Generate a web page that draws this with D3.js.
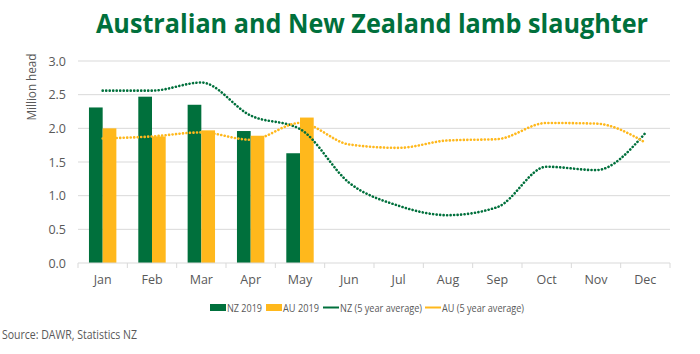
<!DOCTYPE html>
<html>
<head>
<meta charset="utf-8">
<script src="https://cdn.jsdelivr.net/npm/d3@7"></script>
<style>
  body { margin: 0; background: #fff; overflow: hidden; }
  svg { display: block; }
  text { font-family: "Open Sans", "Liberation Sans", sans-serif; }
</style>
</head>
<body>
<div id="chart"></div>
<script>
const months = ["Jan", "Feb", "Mar", "Apr", "May", "Jun", "Jul", "Aug", "Sep", "Oct", "Nov", "Dec"];
const nz2019 = [2.31, 2.47, 2.35, 1.96, 1.63];
const au2019 = [2.00, 1.88, 1.97, 1.89, 2.16];
const nzAvg = [2.56, 2.56, 2.68, 2.19, 1.99, 1.19, 0.85, 0.71, 0.83, 1.43, 1.38, 1.93];
const auAvg = [1.85, 1.88, 1.94, 1.83, 2.08, 1.76, 1.71, 1.82, 1.84, 2.08, 2.07, 1.79];
const yTicks = [0, 0.5, 1, 1.5, 2, 2.5, 3];

const green = "#00703c";
const gold = "#ffb81c";

const width = 700, height = 354;
const margin = { top: 61, right: 30, bottom: 91, left: 78 };
const innerWidth = width - margin.left - margin.right;
const innerHeight = height - margin.top - margin.bottom;

const svg = d3.select("#chart").append("svg")
  .attr("width", width)
  .attr("height", height);

svg.append("text")
  .attr("x", 96)
  .attr("y", 33)
  .attr("textLength", 552)
  .attr("lengthAdjust", "spacingAndGlyphs")
  .style("font-size", "27px")
  .style("font-weight", "bold")
  .style("fill", green)
  .text("Australian and New Zealand lamb slaughter");

const g = svg.append("g")
  .attr("transform", `translate(${margin.left},${margin.top})`);

const x = d3.scaleBand().domain(months).range([0, innerWidth]);
const y = d3.scaleLinear().domain([0, 3]).range([innerHeight, 0]);

// gridlines
g.selectAll("line.grid")
  .data(yTicks.slice(1))
  .enter().append("line")
  .attr("class", "grid")
  .attr("x1", 0).attr("x2", innerWidth)
  .attr("y1", d => y(d)).attr("y2", d => y(d))
  .attr("stroke", "#d9d9d9")
  .attr("stroke-width", 1);

// y axis labels
g.selectAll("text.ytick")
  .data(yTicks)
  .enter().append("text")
  .attr("class", "ytick")
  .attr("x", -12)
  .attr("y", d => y(d) + 4.5)
  .attr("text-anchor", "end")
  .style("font-size", "12.5px")
  .style("fill", "#595959")
  .text(d => d.toFixed(1));

svg.append("text")
  .attr("transform", "translate(36,87) rotate(-90)")
  .attr("text-anchor", "middle")
  .attr("textLength", 67)
  .attr("lengthAdjust", "spacingAndGlyphs")
  .style("font-size", "12.5px")
  .style("fill", "#595959")
  .text("Million head");

// bars
const barW = 13.7;
const monthsWithBars = months.slice(0, nz2019.length);
g.selectAll("rect.nz")
  .data(monthsWithBars)
  .enter().append("rect")
  .attr("class", "nz")
  .attr("x", (d, i) => x(d) + x.bandwidth() / 2 - barW)
  .attr("y", (d, i) => y(nz2019[i]))
  .attr("width", barW)
  .attr("height", (d, i) => innerHeight - y(nz2019[i]))
  .attr("fill", green);

g.selectAll("rect.au")
  .data(monthsWithBars)
  .enter().append("rect")
  .attr("class", "au")
  .attr("x", (d, i) => x(d) + x.bandwidth() / 2)
  .attr("y", (d, i) => y(au2019[i]))
  .attr("width", barW)
  .attr("height", (d, i) => innerHeight - y(au2019[i]))
  .attr("fill", gold);

// x axis
const xAxis = g.append("g")
  .attr("transform", `translate(0,${innerHeight})`);
xAxis.append("line")
  .attr("x1", 0).attr("x2", innerWidth)
  .attr("stroke", "#d9d9d9");
xAxis.selectAll("line.tick")
  .data(d3.range(months.length + 1))
  .enter().append("line")
  .attr("class", "tick")
  .attr("x1", i => i * x.step()).attr("x2", i => i * x.step())
  .attr("y1", 0).attr("y2", 5)
  .attr("stroke", "#d9d9d9");
xAxis.selectAll("text")
  .data(months)
  .enter().append("text")
  .attr("x", d => x(d) + x.bandwidth() / 2)
  .attr("y", 21)
  .attr("text-anchor", "middle")
  .style("font-size", "12.5px")
  .style("fill", "#595959")
  .text(d => d);

// lines
const line = d3.line()
  .x((d, i) => x(months[i]) + x.bandwidth() / 2)
  .y(d => y(d))
  .curve(d3.curveMonotoneX);

[[nzAvg, green], [auAvg, gold]].forEach(([vals, col]) => {
  g.append("path")
    .datum(vals)
    .attr("d", line)
    .attr("fill", "none")
    .attr("stroke", col)
    .attr("stroke-width", 2.6)
    .attr("stroke-dasharray", "0.1 3.4")
    .attr("stroke-linecap", "round");
});

// legend
const legend = svg.append("g").attr("transform", "translate(0,307.5)");
const items = [
  { label: "NZ 2019", color: green, type: "rect", x: 210, w: 35 },
  { label: "AU 2019", color: gold, type: "rect", x: 266, w: 36 },
  { label: "NZ (5 year average)", color: green, type: "line", x: 323, w: 82 },
  { label: "AU (5 year average)", color: gold, type: "line", x: 425, w: 82 }
];
items.forEach(it => {
  if (it.type === "rect") {
    legend.append("rect")
      .attr("x", it.x).attr("y", -3.5)
      .attr("width", 16).attr("height", 7)
      .attr("fill", it.color);
  } else {
    legend.append("line")
      .attr("x1", it.x).attr("x2", it.x + 16)
      .attr("y1", 0).attr("y2", 0)
      .attr("stroke", it.color)
      .attr("stroke-width", 2);
  }
  legend.append("text")
    .attr("x", it.x + 17)
    .attr("y", 4)
    .attr("textLength", it.w)
    .attr("lengthAdjust", "spacingAndGlyphs")
    .style("font-size", "11px")
    .style("fill", "#595959")
    .text(it.label);
});

svg.append("text")
  .attr("x", 2)
  .attr("y", 339)
  .attr("textLength", 135)
  .attr("lengthAdjust", "spacingAndGlyphs")
  .style("font-size", "12.5px")
  .style("fill", "#595959")
  .text("Source: DAWR, Statistics NZ");
</script>
</body>
</html>
